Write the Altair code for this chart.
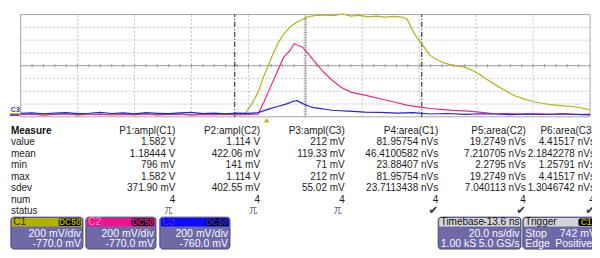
import altair as alt
import pandas as pd

W, H = 584, 242
SX, SY = W / 600.0, H / 258.0
FONT = "Liberation Sans"

# ---------------- waveform samples (time in ns, voltage in mV) ----------------
C1_T = [-100, -96, -92, -88, -84, -80, -76, -72, -68, -64, -60, -56, -52, -48, -44, -40, -36, -32, -28, -24,
        -21.4, -19.0, -16.6, -14.5, -13.2, -11.5, -9.7, -7.7, -5.3, -2.9, -0.9, 1.5, 3.9,
        7, 10, 13, 16, 19, 22, 25, 28, 31, 34,
        35.7, 36.8, 38.5, 40.9, 43.6, 46, 48.4, 50.5, 52.8, 54.5, 56.2, 58, 59.7, 61.5, 63.1, 65.3,
        67.5, 70.4, 73.3, 76.8, 80.2, 83.6, 87.0, 90.4, 93.8, 97, 100]
C1_MV = [6, 12, 3, 9, 15, 4, 10, 1, 8, 13, 5, 11, 2, 9, 14, 6, 10, 3, 8, 5,
         5, 161, 352, 616, 748, 939, 1115, 1262, 1379, 1453, 1497, 1541, 1555,
         1566, 1552, 1582, 1546, 1558, 1534, 1547, 1529, 1541, 1531,
         1501, 1404, 1257, 1111, 939, 870, 817, 790, 767, 758, 744, 712, 670, 625, 572, 510,
         450, 375, 303, 250, 205, 178, 156, 142, 131, 108, 83]

C2_T = [-100, -96, -92, -88, -84, -80, -76, -72, -68, -64, -60, -56, -52, -48, -44, -40, -36, -32, -28, -24, -20,
        -16.6, -14.5, -12.1, -9.7, -7.7, -5.3, -4.0, -2.5, -1.0, 0.5, 3.2, 6.0, 9.4, 12.8, 16.2, 21.0,
        26.5, 32.3, 36, 40.9, 44, 48.4, 52, 57.3, 62, 66.5, 71, 76.8, 82, 87, 92, 96, 100]
C2_MV = [2, 10, -4, 8, 14, 0, 6, 12, -2, 9, 4, 15, 1, 7, 11, -3, 8, 5, 13, 2, 6,
         12, 205, 454, 689, 895, 1012, 1114, 1086, 1060, 983, 836, 689, 542, 425, 352, 308,
         249, 190, 150, 117, 100, 83, 70, 58, 40, 18, 22, 10, 16, 8, 14, 6, 12]

C3_T = [-100, -96, -92, -88, -84, -80, -76, -72, -68, -64, -60, -56, -52, -48, -44, -40, -36, -32, -28, -24, -20,
        -16.6, -13.2, -9.7, -6.3, -4.5, -2.9, -0.9, 1.5, 3.0, 4.9, 7, 9.4, 12, 15.2, 18, 21.0,
        26, 32.3, 38, 43.6, 50, 56, 62, 66.5, 72, 78, 84, 90, 95, 100]
C3_MV = [14, 22, 8, 18, 26, 10, 16, 30, 12, 20, 6, 24, 15, 9, 21, 28, 11, 17, 7, 19, 13,
         25, 77, 121, 166, 200, 212, 166, 121, 105, 92, 78, 63, 55, 48, 42, 34,
         30, 19, 24, 4, 12, -2, 8, 4, -6, 6, -4, 8, -2, -10]

CHANNELS = ["C1", "C2", "C3"]
CH_COLORS = ["#b5b216", "#e8288a", "#2323dd"]
OFFSET_MV = {"C1": -770.0, "C2": -770.0, "C3": -760.0}
VOLTS_PER_DIV_MV = 200.0

# ---------------- measurement table ----------------
ROW_NAMES = ["value", "mean", "min", "max", "sdev", "num", "status"]
COLS = ["P1:ampl(C1)", "P2:ampl(C2)", "P3:ampl(C3)", "P4:area(C1)", "P5:area(C2)", "P6:area(C3)"]
VALUE = ["1.582 V", "1.114 V", "212 mV", "81.95754 nVs", "19.2749 nVs", "4.41517 nVs"]
MEAN = ["1.18444 V", "422.06 mV", "119.33 mV", "46.4100582 nVs", "7.210705 nVs", "2.1842278 nVs"]
MIN = ["796 mV", "141 mV", "71 mV", "23.88407 nVs", "2.2795 nVs", "1.25791 nVs"]
MAX = ["1.582 V", "1.114 V", "212 mV", "81.95754 nVs", "19.2749 nVs", "4.41517 nVs"]
SDEV = ["371.90 mV", "402.55 mV", "55.02 mV", "23.7113438 nVs", "7.040113 nVs", "1.3046742 nVs"]
NUM = ["4", "4", "4", "4", "4", "4"]
STATUS = ["兀", "兀", "兀", "✔", "✔", "✔"]

# ---------------- descriptor boxes ----------------
CH_SCALE = ["200 mV/div", "200 mV/div", "200 mV/div"]
CH_OFFSET = ["-770.0 mV", "-770.0 mV", "-760.0 mV"]
CH_COUPLING = ["DC50", "DC50", "DC50"]
TB_HEADER = ["Timebase", "-13.6 ns"]
TB_LINES = ["20.0 ns/div", "1.00 kS", "5.0 GS/s"]
TR_HEADER = ["Trigger", "C1"]
TR_LINES = ["Stop", "742 mV", "Edge", "Positive"]
TRIGGER_T = -13.6
CURSORS_T = [-24.8, 40.9]

# ---------------- layout (reference pixel frame 600x258) ----------------
PLOT_L, PLOT_R, PLOT_T, PLOT_B = 13, 598, 7, 116
COL_RIGHT = [172, 259, 346, 442, 532, 603]
ROW0_Y, ROW_DY = 131, 12.2
TFS = 10    # table font size
BFS = 10    # box header font size
BBS = 10.5  # box body font size

TS = alt.Scale(domain=[-100, 100], range=[PLOT_L * SX, PLOT_R * SX], nice=False, zero=False)
DS = alt.Scale(domain=[-4, 4], range=[PLOT_B * SY, PLOT_T * SY], nice=False, zero=False)
PXS = alt.Scale(domain=[0, 600], range=[0, W], nice=False, zero=False)
PYS = alt.Scale(domain=[0, 258], range=[0, H], nice=False, zero=False)


def tx(f="t"):
    return alt.X(f, type="quantitative", scale=TS, axis=None)


def dy(f="d"):
    return alt.Y(f, type="quantitative", scale=DS, axis=None)


def px(f="x"):
    return alt.X(f, type="quantitative", scale=PXS, axis=None)


def py(f="y"):
    return alt.Y(f, type="quantitative", scale=PYS, axis=None)


layers = []

# background of plot
layers.append(alt.Chart(pd.DataFrame({"t": [-100], "t2": [100], "d": [-4], "d2": [4]})).mark_rect(
    fill="white").encode(x=tx(), x2="t2", y=dy(), y2="d2"))

# grid
vt = [-100 + 20 * k for k in range(11)]
gv = pd.DataFrame({"t": [v for v in vt if v not in (-100, 0, 100)]})
gv["d"], gv["d2"] = -4, 4
layers.append(alt.Chart(gv).mark_rule(color="#c4c4c4", strokeDash=[2, 2], strokeWidth=1).encode(
    x=tx(), y=dy(), y2="d2"))
gh = pd.DataFrame({"d": [v for v in range(-3, 4) if v != 0]})
gh["t"], gh["t2"] = -100, 100
layers.append(alt.Chart(gh).mark_rule(color="#c4c4c4", strokeDash=[2, 2], strokeWidth=1).encode(
    x=tx(), x2="t2", y=dy()))
# center lines
layers.append(alt.Chart(pd.DataFrame({"t": [0], "d": [-4], "d2": [4]})).mark_rule(
    color="#b4b4b4", strokeWidth=1).encode(x=tx(), y=dy(), y2="d2"))
layers.append(alt.Chart(pd.DataFrame({"t": [-100], "t2": [100], "d": [0]})).mark_rule(
    color="#9a9a9a", strokeWidth=1).encode(x=tx(), x2="t2", y=dy()))
# minor ticks on centre lines
tk = pd.DataFrame({"t": [-100 + 4 * k for k in range(51)]})
tk["d"], tk["d2"] = -0.13, 0.13
layers.append(alt.Chart(tk).mark_rule(color="#9a9a9a", strokeWidth=1).encode(x=tx(), y=dy(), y2="d2"))
tk2 = pd.DataFrame({"d": [-4 + 0.2 * k for k in range(41)]})
tk2["t"], tk2["t2"] = -0.6, 0.6
layers.append(alt.Chart(tk2).mark_rule(color="#a8a8a8", strokeWidth=1).encode(x=tx(), x2="t2", y=dy()))
# border
layers.append(alt.Chart(pd.DataFrame({"t": [-100], "t2": [100], "d": [-4], "d2": [4]})).mark_rect(
    fill=None, stroke="#a8a8a8", strokeWidth=1).encode(x=tx(), x2="t2", y=dy(), y2="d2"))

# cursors
cur = pd.DataFrame({"t": CURSORS_T})
cur["d"], cur["d2"] = -4, 4
layers.append(alt.Chart(cur).mark_rule(color="#111111", strokeDash=[5, 2, 1, 2], strokeWidth=1).encode(
    x=tx(), y=dy(), y2="d2"))

# waveforms
frames = []
for ch, T, MV in (("C1", C1_T, C1_MV), ("C2", C2_T, C2_MV), ("C3", C3_T, C3_MV)):
    f = pd.DataFrame({"t": T, "mv": MV})
    f["ch"] = ch
    f["d"] = (f["mv"] + OFFSET_MV[ch]) / VOLTS_PER_DIV_MV
    f["i"] = range(len(f))
    frames.append(f)
wave = pd.concat(frames, ignore_index=True)
layers.append(alt.Chart(wave).mark_line(strokeWidth=1.2, clip=True).encode(
    x=tx(), y=dy(),
    color=alt.Color("ch:N", scale=alt.Scale(domain=CHANNELS, range=CH_COLORS), legend=None),
    order="i:Q"))

# trigger marker
layers.append(alt.Chart(pd.DataFrame({"t": [TRIGGER_T], "d": [-4.27]})).mark_point(
    shape="triangle-up", filled=True, size=28, color="#bdb400", opacity=1).encode(x=tx(), y=dy()))

# ground marker at left
layers.append(alt.Chart(pd.DataFrame({"x": [7.5], "y": [108.5], "s": ["C3"]})).mark_text(
    fontSize=7, font=FONT, color="#3a3a9a", fontWeight="bold").encode(x=px(), y=py(), text="s:N"))
gm = pd.DataFrame({"x": [2, 2, 2], "x2": [12, 12, 12], "y": [112.6, 113.6, 114.4], "c": CH_COLORS})
layers.append(alt.Chart(gm).mark_rule(strokeWidth=1).encode(
    x=px(), x2="x2", y=py(), color=alt.Color("c:N", scale=None)))

# table
rows = [VALUE, MEAN, MIN, MAX, SDEV, NUM]
cells = []
for j, c in enumerate(COLS):
    cells.append({"x": COL_RIGHT[j], "y": ROW0_Y, "s": c})
    for i, r in enumerate(rows):
        cells.append({"x": COL_RIGHT[j], "y": ROW0_Y + ROW_DY * (i + 1), "s": r[j]})
layers.append(alt.Chart(pd.DataFrame(cells)).mark_text(
    align="right", baseline="middle", fontSize=TFS, font=FONT, color="#1c1c1c").encode(
    x=px(), y=py(), text="s:N"))
labels = pd.DataFrame({"x": [3] * len(ROW_NAMES),
                       "y": [ROW0_Y + ROW_DY * (i + 1) for i in range(len(ROW_NAMES))],
                       "s": ROW_NAMES})
layers.append(alt.Chart(labels).mark_text(
    align="left", baseline="middle", fontSize=TFS, font=FONT, color="#1c1c1c").encode(
    x=px(), y=py(), text="s:N"))
layers.append(alt.Chart(pd.DataFrame({"x": [3], "y": [ROW0_Y], "s": ["Measure"]})).mark_text(
    align="left", baseline="middle", fontSize=TFS, font=FONT, fontWeight="bold", color="#111111").encode(
    x=px(), y=py(), text="s:N"))
st_pulse = pd.DataFrame({"x": [COL_RIGHT[j] - 3 for j in range(6) if STATUS[j] == "兀"],
                         "y": ROW0_Y + ROW_DY * 7 - 0.5,
                         "s": [s for s in STATUS if s == "兀"]})
layers.append(alt.Chart(st_pulse).mark_text(
    align="right", baseline="middle", fontSize=8, font="Noto Sans CJK SC",
    color="#3a3a3a").encode(x=px(), y=py(), text="s:N"))
st_ok = pd.DataFrame({"x": [COL_RIGHT[j] for j in range(6) if STATUS[j] == "✔"],
                      "y": ROW0_Y + ROW_DY * 7,
                      "s": [s for s in STATUS if s == "✔"]})
layers.append(alt.Chart(st_ok).mark_text(
    align="right", baseline="middle", fontSize=11.5, font="DejaVu Sans",
    color="#333333").encode(x=px(), y=py(), text="s:N"))

# descriptor boxes
BX = [(3, 77), (80, 152), (156, 228), (442, 527), (529, 612)]
HEAD_FILL = ["#b3b000", "#f0148c", "#0a0aff", "#d4d4d4", "#d4d4d4"]
HEAD_TXT = ["#2a2a00", "#ff8cc8", "#3a3aff", "#111111", "#111111"]
BY1, BY2, HY2 = 223, 257, 233
boxes = pd.DataFrame({"x": [b[0] for b in BX], "x2": [b[1] for b in BX], "y": BY1, "y2": BY2})
layers.append(alt.Chart(boxes).mark_rect(
    cornerRadius=3, fill="#6f6aa7", stroke="#48457c", strokeWidth=1).encode(
    x=px(), x2="x2", y=py(), y2="y2"))
heads = pd.DataFrame({"x": [b[0] + 1 for b in BX], "x2": [b[1] - 1 for b in BX],
                      "y": BY1 + 1, "y2": HY2, "c": HEAD_FILL})
layers.append(alt.Chart(heads).mark_rect(cornerRadiusTopLeft=2, cornerRadiusTopRight=2).encode(
    x=px(), x2="x2", y=py(), y2="y2", color=alt.Color("c:N", scale=None)))
# black tags
tags = pd.DataFrame({"x": [BX[0][1] - 25, BX[1][1] - 25, BX[2][1] - 25, 586],
                     "x2": [BX[0][1] - 2, BX[1][1] - 2, BX[2][1] - 2, 606],
                     "y": BY1 + 1.5, "y2": HY2 - 0.5})
layers.append(alt.Chart(tags).mark_rect(cornerRadius=2, fill="#050505").encode(
    x=px(), x2="x2", y=py(), y2="y2"))
tagtxt = pd.DataFrame({"x": [BX[0][1] - 13.5, BX[1][1] - 13.5, BX[2][1] - 13.5, 594],
                       "y": 228.5, "s": CH_COUPLING + [TR_HEADER[1]],
                       "c": ["#b3b000", "#f0148c", "#2a2aff", "#b3b000"]})
layers.append(alt.Chart(tagtxt).mark_text(
    align="center", baseline="middle", fontSize=8.5, font=FONT, fontWeight="bold").encode(
    x=px(), y=py(), text="s:N", color=alt.Color("c:N", scale=None)))
# header texts
htl = pd.DataFrame({"x": [b[0] + 2.5 for b in BX], "y": 228.5,
                    "s": CHANNELS + [TB_HEADER[0], TR_HEADER[0]], "c": HEAD_TXT})
layers.append(alt.Chart(htl).mark_text(
    align="left", baseline="middle", fontSize=BFS, font=FONT).encode(
    x=px(), y=py(), text="s:N", color=alt.Color("c:N", scale=None)))
layers.append(alt.Chart(pd.DataFrame({"x": [BX[3][1] - 1.5], "y": [228.5], "s": [TB_HEADER[1]]})).mark_text(
    align="right", baseline="middle", fontSize=BFS, font=FONT, color="#111111").encode(
    x=px(), y=py(), text="s:N"))
# body texts
body_r = []
for k in range(3):
    body_r.append({"x": BX[k][1] - 2, "y": 240.5, "s": CH_SCALE[k]})
    body_r.append({"x": BX[k][1] - 2, "y": 252, "s": CH_OFFSET[k]})
body_r.append({"x": BX[3][1] - 1.5, "y": 240.5, "s": TB_LINES[0]})
body_r.append({"x": BX[3][1] - 1.5, "y": 252, "s": TB_LINES[2]})
body_r.append({"x": 604, "y": 240.5, "s": TR_LINES[1]})
body_r.append({"x": 600, "y": 252, "s": TR_LINES[3]})
layers.append(alt.Chart(pd.DataFrame(body_r)).mark_text(
    align="right", baseline="middle", fontSize=BBS, font=FONT, color="#f6f6ff").encode(
    x=px(), y=py(), text="s:N"))
body_l = pd.DataFrame({"x": [BX[3][0] + 2.5, BX[4][0] + 2.5, BX[4][0] + 2.5], "y": [252, 240.5, 252],
                       "s": [TB_LINES[1], TR_LINES[0], TR_LINES[2]]})
layers.append(alt.Chart(body_l).mark_text(
    align="left", baseline="middle", fontSize=BBS, font=FONT, color="#f6f6ff").encode(
    x=px(), y=py(), text="s:N"))

chart = alt.layer(*layers).resolve_scale(
    x="independent", y="independent", color="independent"
).properties(
    width=W, height=H, padding=0, autosize=alt.AutoSizeParams(type="none"), background="white"
).configure_view(strokeWidth=0)

chart.save("out.html", embed_options={"renderer": "svg", "actions": False})
